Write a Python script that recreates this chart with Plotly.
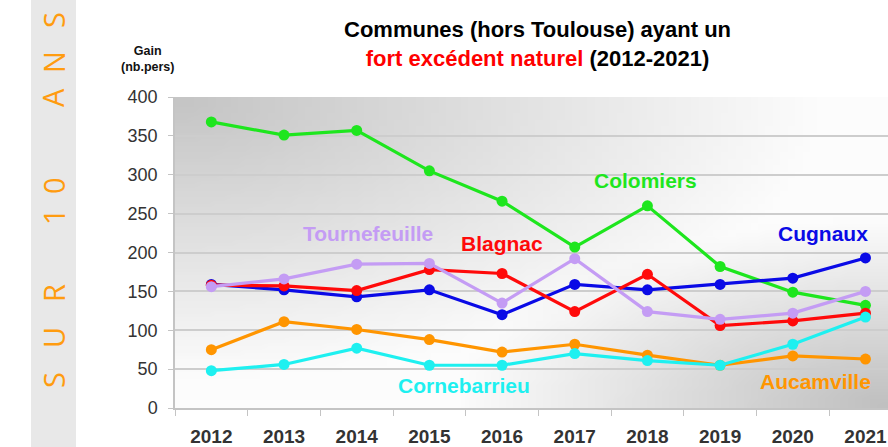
import base64
import struct
import zlib

import plotly.graph_objects as go

# ---- data -------------------------------------------------------------
years = ["2012", "2013", "2014", "2015", "2016", "2017", "2018", "2019", "2020", "2021"]

colomiers = [368, 351, 357, 305, 266, 207, 260, 182, 149, 132]
cugnaux = [159, 152, 143, 152, 120, 159, 152, 159, 167, 193]
blagnac = [158, 157, 151, 178, 173, 124, 172, 106, 112, 122]
tournefeuille = [156, 166, 185, 186, 135, 192, 124, 114, 122, 150]
aucamville = [75, 111, 101, 88, 72, 82, 68, 55, 67, 63]
cornebarrieu = [48, 56, 77, 55, 55, 70, 61, 55, 82, 117]

y_ticks = [0, 50, 100, 150, 200, 250, 300, 350, 400]

series = [
    ("Colomiers", colomiers, "#1ee61e"),
    ("Cugnaux", cugnaux, "#0a0ae6"),
    ("Blagnac", blagnac, "#ff0a0a"),
    ("Tournefeuille", tournefeuille, "#c49cf4"),
    ("Aucamville", aucamville, "#ff9500"),
    ("Cornebarrieu", cornebarrieu, "#1ef0f0"),
]

# label text, anchor (category index, value) and colour
labels = [
    ("Tournefeuille", 2.15, 224, "#c49cf4"),
    ("Blagnac", 4.0, 211, "#ff0a0a"),
    ("Colomiers", 5.97, 292, "#1ee61e"),
    ("Cugnaux", 8.42, 225, "#0a0ae6"),
    ("Cornebarrieu", 3.47, 29, "#1ef0f0"),
    ("Aucamville", 8.31, 34, "#ff9500"),
]

# ---- page geometry ------------------------------------------------------
W, H = 888, 447
PL, PT, PB = 175, 97, 408          # plot area left / top / bottom (pixels)
PR = W                             # plot area runs to the right edge


def px(x):
    return (x - PL) / (PR - PL)


def py(y):
    return (PB - y) / (PB - PT)


# ---- soft grey background for the plot area (tiny PNG, stretched) -------
def gradient_png(w, h):
    rows = []
    for j in range(h):
        v = j / (h - 1)
        row = bytearray([0])
        for i in range(w):
            u = i / (w - 1)
            d1 = ((u / 0.9) ** 2 + (v / 0.9) ** 2) ** 0.5
            d2 = (((1 - u) / 0.6) ** 2 + ((1 - v) / 0.6) ** 2) ** 0.5
            g = 252 - 55 * max(0.0, 1 - d1) - 60 * max(0.0, 1 - d2)
            row.append(int(max(0, min(255, g))))
        rows.append(bytes(row))
    raw = zlib.compress(b"".join(rows), 9)

    def chunk(tag, data):
        c = struct.pack(">I", len(data)) + tag + data
        return c + struct.pack(">I", zlib.crc32(tag + data) & 0xFFFFFFFF)

    png = b"\x89PNG\r\n\x1a\n"
    png += chunk(b"IHDR", struct.pack(">IIBBBBB", w, h, 8, 0, 0, 0, 0))
    png += chunk(b"IDAT", raw)
    png += chunk(b"IEND", b"")
    return "data:image/png;base64," + base64.b64encode(png).decode()


fig = go.Figure()

for name, vals, col in series:
    fig.add_trace(go.Scatter(
        x=years, y=vals, name=name, mode="lines+markers",
        line=dict(color=col, width=3.2),
        marker=dict(color=col, size=11),
        hoverinfo="x+y+name",
    ))

annotations = []
for text, xi, yv, col in labels:
    annotations.append(dict(
        x=xi, y=yv, xref="x", yref="y", text=f"<b>{text}</b>", showarrow=False,
        font=dict(family="Liberation Sans, Arial", size=21, color=col),
        xanchor="center", yanchor="middle",
    ))

# title
annotations.append(dict(
    x=px(537), y=py(44), xref="paper", yref="paper", showarrow=False,
    text="<b>Communes (hors Toulouse) ayant un</b><br>"
         "<b><span style='color:#ff0000'>fort excédent naturel</span> (2012-2021)</b>",
    font=dict(family="Liberation Sans, Arial", size=22, color="#000000"),
    xanchor="center", yanchor="middle", align="center",
))

# y-axis unit
annotations.append(dict(
    x=px(147), y=py(59), xref="paper", yref="paper", showarrow=False,
    text="<b>Gain</b><br><b>(nb.pers)</b>",
    font=dict(family="Liberation Sans, Arial", size=12.5, color="#111111"),
    xanchor="center", yanchor="middle", align="center",
))

# vertical side caption, one glyph at a time
side = [("S", 380), ("U", 338), ("R", 293), ("1", 217), ("0", 186),
        ("A", 98), ("N", 62), ("S", 20)]
for ch, yc in side:
    annotations.append(dict(
        x=px(53), y=py(yc), xref="paper", yref="paper", showarrow=False,
        text=ch, textangle=-90,
        font=dict(family="Open Sans, Noto Sans", size=29, color="#ff9c10"),
        xanchor="center", yanchor="middle",
    ))

fig.update_layout(
    width=W, height=H,
    margin=dict(l=PL, r=W - PR, t=PT, b=H - PB, pad=0),
    paper_bgcolor="#ffffff",
    plot_bgcolor="rgba(0,0,0,0)",
    showlegend=False,
    annotations=annotations,
    images=[dict(
        source=gradient_png(96, 48), xref="paper", yref="paper",
        x=0, y=1, sizex=1, sizey=1, sizing="stretch",
        xanchor="left", yanchor="top", layer="below",
    )],
    shapes=[dict(
        type="rect", xref="paper", yref="paper",
        x0=px(31), x1=px(76), y0=py(H + 5), y1=py(-5),
        fillcolor="#e8e8e8", line=dict(width=0), layer="below",
    )],
)

fig.update_xaxes(
    type="category", range=[-0.5, 9.31],
    showgrid=False, showline=True, linecolor="#c4c4c4", linewidth=1.5,
    ticks="outside", tickson="boundaries", ticklen=6, tickcolor="#c4c4c4",
    tickfont=dict(family="Liberation Sans, Arial", size=19, color="#333333", weight="bold"),
    ticklabelstandoff=10,
)
fig.update_yaxes(
    range=[0, 400], tickvals=y_ticks,
    showgrid=True, gridcolor="#cdcdcd", gridwidth=1.5,
    showline=True, linecolor="#c4c4c4", linewidth=1.5,
    ticks="outside", ticklen=5, tickcolor="#c4c4c4",
    tickfont=dict(family="Liberation Sans, Arial", size=18, color="#333333"),
    ticklabelstandoff=7, zeroline=False,
)

fig.write_html("out.html")
